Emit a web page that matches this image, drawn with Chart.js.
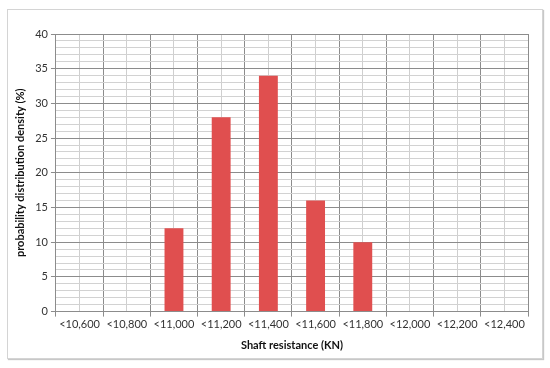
<!DOCTYPE html>
<html>
<head>
<meta charset="utf-8">
<script src="https://cdn.jsdelivr.net/npm/chart.js@4"></script>
<style>
  html, body { margin: 0; padding: 0; background: #fff; }
  #wrap { position: relative; width: 550px; height: 368px; }
  #frame { position: absolute; left: 7px; top: 9px; width: 534px; height: 348px;
           border: 1px solid #d4d4d4; box-shadow: 1px 1px 1px #c8c8c8; }
  canvas { position: absolute; left: 0; top: 0; }
</style>
</head>
<body>
<div id="wrap">
  <div id="frame"></div>
  <canvas id="chart" width="550" height="368"></canvas>
</div>
<script>
  const categories = ["<10,600", "<10,800", "<11,000", "<11,200", "<11,400",
                      "<11,600", "<11,800", "<12,000", "<12,200", "<12,400"];
  const density = [null, null, 12, 28, 34, 16, 10, null, null, null];
  const yMax = 40;

  const font = { family: "Lato, 'Open Sans', sans-serif", size: 11 };

  const ctx = document.getElementById("chart").getContext("2d");
  new Chart(ctx, {
    type: "bar",
    data: {
      labels: categories,
      datasets: [{
        data: density,
        backgroundColor: "#e04f4f",
        barPercentage: 0.4,
        categoryPercentage: 1
      }]
    },
    options: {
      responsive: false,
      animation: false,
      layout: { padding: { left: 14, right: 22, top: 34, bottom: 16 } },
      plugins: { legend: { display: false }, tooltip: { enabled: false } },
      scales: {
        x: {
          offset: true,
          grid: { offset: true, color: "#8c8c8c", tickColor: "#8c8c8c", tickLength: 5 },
          border: { color: "#8c8c8c" },
          ticks: { color: "#333", font, padding: 1, maxRotation: 0 },
          title: { display: true, text: "Shaft resistance (KN)", color: "#111",
                   font: { family: font.family, size: 11, weight: "bold" }, padding: { top: 7, bottom: 0 } }
        },
        x2: {
          type: "category",
          labels: categories,
          offset: true,
          position: "bottom",
          grid: { offset: false, color: "#cfcfcf", drawTicks: false },
          border: { display: false },
          ticks: { display: false }
        },
        y: {
          min: 0,
          max: yMax,
          grid: {
            color: c => (c.tick && c.tick.value % 5 === 0) ? "#8c8c8c" : "#d2d2d2",
            tickColor: c => (c.tick && c.tick.value % 5 === 0) ? "#8c8c8c" : "rgba(0,0,0,0)",
            tickLength: 5
          },
          border: { color: "#8c8c8c" },
          ticks: {
            stepSize: 1,
            autoSkip: false,
            color: "#333",
            font,
            padding: 3,
            callback: v => (v % 5 === 0 ? v : "")
          },
          title: { display: true, text: "probability distribution density (%)", color: "#111",
                   font: { family: font.family, size: 11, weight: "bold" }, padding: { top: 0, bottom: 5 } }
        }
      }
    }
  });
</script>
</body>
</html>
